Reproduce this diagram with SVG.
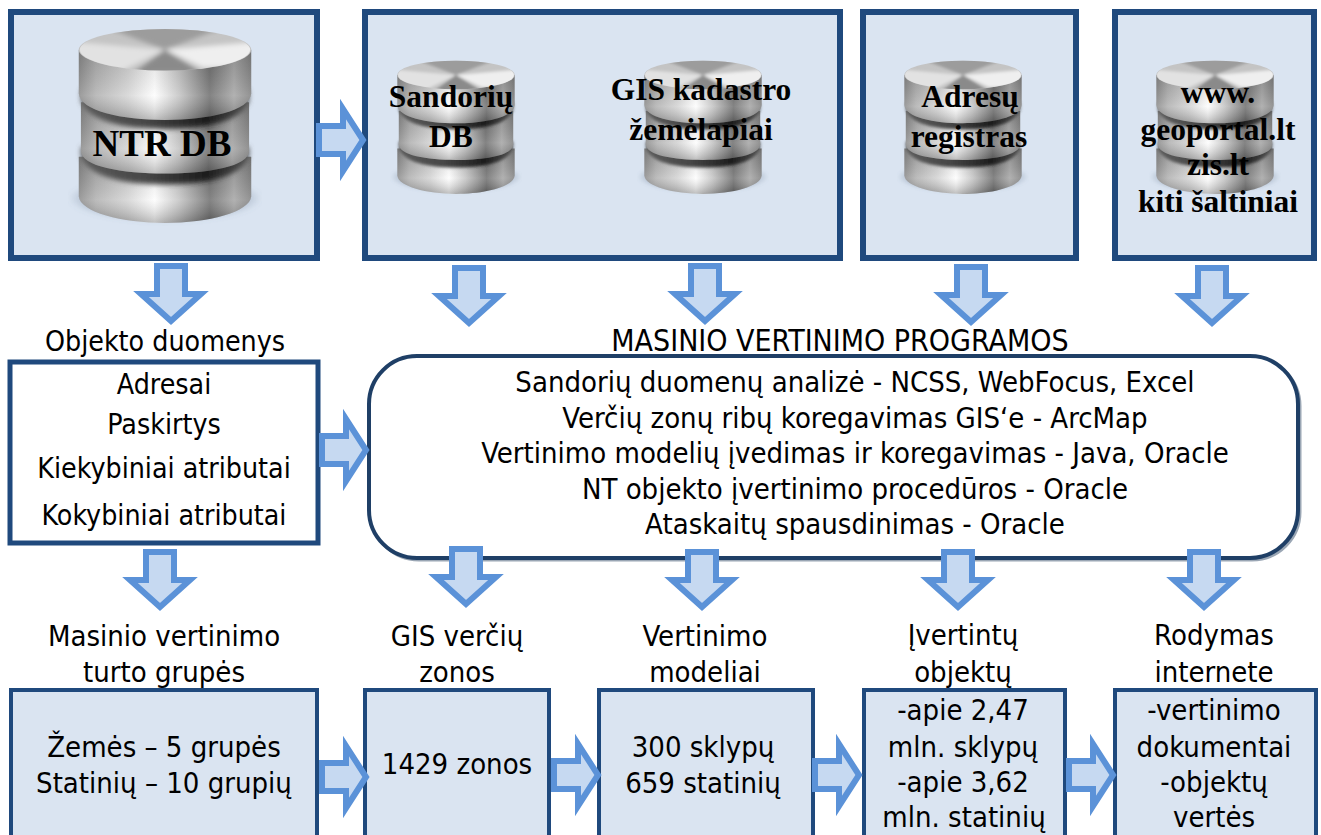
<svg xmlns="http://www.w3.org/2000/svg" width="1321" height="835" viewBox="0 0 1321 835">
<style>
.box{fill:#dae4f1;stroke:#1f497d;stroke-width:6}
.box2{fill:#dae4f1;stroke:#1f497d;stroke-width:4}
.wbox{fill:#fff;stroke:#1f497d;stroke-width:5}
.arr{fill:#c6d9f1;stroke:#5b92d8;stroke-width:6;stroke-linejoin:miter}
text{font-family:"DejaVu Sans Condensed","DejaVu Sans",sans-serif;font-size:29px;fill:#000;text-anchor:middle}
.s{font-size:28.3px}
.b{font-family:"Liberation Serif",serif;font-weight:bold;font-size:31.5px}
</style>
<defs>
<linearGradient id="metal" x1="0" x2="1" y1="0" y2="0">
<stop offset="0" stop-color="#8a8a8a"/><stop offset=".1" stop-color="#b0b0b0"/><stop offset=".28" stop-color="#d2d2d2"/><stop offset=".44" stop-color="#fdfdfd"/><stop offset=".58" stop-color="#c4c4c4"/><stop offset=".76" stop-color="#6e6e6e"/><stop offset=".9" stop-color="#a4a4a4"/><stop offset="1" stop-color="#808080"/>
</linearGradient>
<linearGradient id="shade" x1="0" x2="0" y1="0" y2="1">
<stop offset="0" stop-color="#000" stop-opacity=".12"/><stop offset=".65" stop-color="#fff" stop-opacity=".15"/><stop offset="1" stop-color="#000" stop-opacity=".25"/>
</linearGradient>
<linearGradient id="groove" x1="0" x2="1" y1="0" y2="0">
<stop offset="0" stop-color="#5c5c5c"/><stop offset=".4" stop-color="#454545"/><stop offset=".75" stop-color="#1c1c1c"/><stop offset="1" stop-color="#555"/>
</linearGradient>
<radialGradient id="sh"><stop offset="0" stop-color="#61748a" stop-opacity=".7"/><stop offset=".8" stop-color="#61748a" stop-opacity=".35"/><stop offset="1" stop-color="#61748a" stop-opacity="0"/></radialGradient>
<filter id="bl" x="-20%" y="-50%" width="140%" height="200%"><feGaussianBlur stdDeviation="2.5"/></filter>
<clipPath id="topc"><ellipse cx="90" cy="22" rx="79" ry="21"/></clipPath>
<symbol id="db" viewBox="0 0 180 200" preserveAspectRatio="none">
<ellipse cx="90" cy="172" rx="90" ry="24" fill="url(#sh)" filter="url(#bl)"/>
<path d="M10 130V170C11 186 50 197 90 197S169 186 170 170V130Z" fill="url(#metal)"/>
<path d="M10 130V170C11 186 50 197 90 197S169 186 170 170V130Z" fill="url(#shade)"/>
<path d="M12 130C20 150 50 158 90 158S160 150 168 130V120H12Z" fill="url(#groove)" filter="url(#bl)"/>
<path d="M12 75V124C12 140 50 147 90 147S168 140 168 124V75Z" fill="url(#metal)"/>
<path d="M12 75V124C12 140 50 147 90 147S168 140 168 124V75Z" fill="url(#shade)"/>
<path d="M12 74C20 94 50 102 90 102S160 94 168 74V62H12Z" fill="url(#groove)" filter="url(#bl)"/>
<path d="M10 22V66C11 84 50 93 90 93S169 84 170 66V22Z" fill="url(#metal)"/>
<path d="M10 22V66C11 84 50 93 90 93S169 84 170 66V22Z" fill="url(#shade)"/>
<ellipse cx="90" cy="22" rx="80" ry="21" fill="#c4c4c4"/>
<g clip-path="url(#topc)"><g filter="url(#bl)">
<path d="M90 22L30 -3H150Z" fill="#9c9c9c"/>
<path d="M90 22L175 14V40H125Z" fill="#efefef"/>
<path d="M90 22L5 14V36L45 46Z" fill="#e2e2e2"/>
<path d="M90 22L125 46H60Z" fill="#8a8a8a"/>
</g></g>
</symbol>
<polygon id="ad" points="-14,0 14,0 14,28 30,28 0,55 -30,28 -14,28" class="arr"/>
<polygon id="ar" points="0,-14 24,-14 24,-31 44,0 24,31 24,14 0,14" class="arr"/>
</defs>
<g id="node-ntr"><rect class="box" x="11" y="12" width="306" height="246"/><use href="#db" x="68" y="28" width="194" height="198"/><text class="b" x="162" y="156" style="font-size:37px">NTR DB</text></g>
<g id="node-sandoriu"><rect class="box" x="365" y="12" width="475" height="246"/><use href="#db" x="390" y="60" width="132" height="136"/><text class="b" x="451" y="107">Sandorių</text><text class="b" x="451" y="147">DB</text><use href="#db" x="637" y="60" width="132" height="136"/><text class="b" x="701" y="100">GIS kadastro</text><text class="b" x="701" y="140">žemėlapiai</text></g>
<g id="node-adresu"><rect class="box" x="863" y="12" width="213" height="246"/><use href="#db" x="897" y="60" width="132" height="136"/><text class="b" x="970" y="107">Adresų</text><text class="b" x="969" y="147">registras</text></g>
<g id="node-www"><rect class="box" x="1115" y="12" width="199" height="246"/><use href="#db" x="1149" y="60" width="132" height="136"/><text class="b" x="1218" y="103">www.</text><text class="b" x="1218" y="140">geoportal.lt</text><text class="b" x="1218" y="175">zis.lt</text><text class="b" x="1218" y="212">kiti šaltiniai</text></g>
<g id="node-objekto"><text class="s" x="165" y="351">Objekto duomenys</text><rect class="wbox" x="10" y="362" width="308" height="181"/><text class="s" x="164" y="394">Adresai</text><text class="s" x="164" y="434">Paskirtys</text><text class="s" x="164" y="478">Kiekybiniai atributai</text><text class="s" x="164" y="525">Kokybiniai atributai</text></g>
<g id="node-programos"><text x="840" y="351" style="font-size:30px">MASINIO VERTINIMO PROGRAMOS</text><rect x="371" y="358" width="929" height="202" rx="48" fill="none" stroke="#9aa6b4" stroke-width="3"/><rect x="369" y="356" width="929" height="202" rx="48" fill="#fff" stroke="#1f3f66" stroke-width="4"/>
<text x="855" y="392">Sandorių duomenų analizė - NCSS, WebFocus, Excel</text><text x="855" y="428">Verčių zonų ribų koregavimas GIS‘e - ArcMap</text><text x="855" y="463">Vertinimo modelių įvedimas ir koregavimas - Java, Oracle</text><text x="855" y="499">NT objekto įvertinimo procedūros - Oracle</text><text x="855" y="534">Ataskaitų spausdinimas - Oracle</text></g>
<g id="node-grupes"><text x="164" y="646">Masinio vertinimo</text><text x="164" y="682">turto grupės</text><rect class="box2" x="11" y="690" width="306" height="150"/><text x="164" y="757">Žemės – 5 grupės</text><text x="164" y="793">Statinių – 10 grupių</text></g>
<g id="node-zonos"><text x="457" y="646">GIS verčių</text><text x="457" y="682">zonos</text><rect class="box2" x="365" y="690" width="184" height="150"/><text x="457" y="774">1429 zonos</text></g>
<g id="node-modeliai"><text x="705" y="646">Vertinimo</text><text x="705" y="682">modeliai</text><rect class="box2" x="599" y="690" width="214" height="150"/><text x="703" y="757">300 sklypų</text><text x="703" y="793">659 statinių</text></g>
<g id="node-objektu"><text x="963" y="645">Įvertintų</text><text x="963" y="682">objektų</text><rect class="box2" x="864" y="690" width="201" height="150"/><text x="963" y="720">-apie 2,47</text><text x="963" y="757">mln. sklypų</text><text x="963" y="792">-apie 3,62</text><text x="964" y="827">mln. statinių</text></g>
<g id="node-internete"><text x="1214" y="645">Rodymas</text><text x="1214" y="682">internete</text><rect class="box2" x="1115" y="690" width="201" height="150"/><text x="1214" y="720">-vertinimo</text><text x="1214" y="757">dokumentai</text><text x="1214" y="792">-objektų</text><text x="1214" y="827">vertės</text></g>
<g id="connectors">
<use href="#ar" x="319" y="140"/><use href="#ar" x="322" y="450"/><use href="#ar" x="322" y="777"/><use href="#ar" x="554" y="775"/><use href="#ar" x="815" y="775"/><use href="#ar" x="1069" y="775"/>
<use href="#ad" x="171" y="266"/><use href="#ad" x="469" y="268"/><use href="#ad" x="705" y="266"/><use href="#ad" x="971" y="267"/><use href="#ad" x="1212" y="268"/>
<use href="#ad" x="160" y="552"/><use href="#ad" x="466" y="549"/><use href="#ad" x="702" y="552"/><use href="#ad" x="958" y="552"/><use href="#ad" x="1204" y="552"/>
</g>
</svg>
